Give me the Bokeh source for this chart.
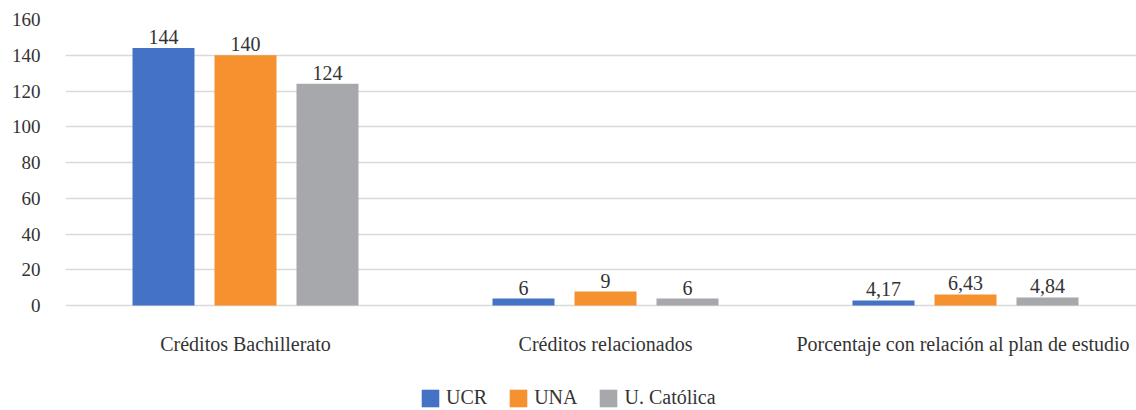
from bokeh.plotting import figure
from bokeh.models import ColumnDataSource, Range1d, FixedTicker, Legend, LegendItem
from bokeh.core.properties import value
from bokeh.embed import file_html
from bokeh.resources import INLINE

categories = ["Créditos Bachillerato", "Créditos relacionados",
              "Porcentaje con  relación al plan de estudio"]
series = ["UCR", "UNA", "U. Católica"]
colors = ["#4472C4", "#F5922F", "#A7A8AC"]
# bar heights as drawn in the reference
ucr_vals = [144, 3.9, 2.8]
una_vals = [140, 7.8, 6.2]
cat_vals = [124, 3.9, 4.5]
# data labels as printed in the reference
ucr_labels = ["144", "6", "4,17"]
una_labels = ["140", "9", "6,43"]
cat_labels = ["124", "6", "4,84"]
y_ticks = [0, 20, 40, 60, 80, 100, 120, 140, 160]

FONT = "serif"
TXT = "#333333"

# frame: top at 19px, value 0 at 305px, frame reaches the bottom edge (410px)
px_per_unit = 286 / 160
y_start = -(410 - 305) / px_per_unit

p = figure(width=1136, height=410, output_backend="svg", toolbar_location=None,
           x_range=Range1d(-0.5, -0.5 + 1071 / 360), y_range=Range1d(y_start, 160),
           min_border_left=65, min_border_right=0, min_border_top=19,
           min_border_bottom=0, frame_height=391, frame_width=1071)
p.outline_line_color = None
p.background_fill_color = "white"

bar_w = 62 / 360
off = 82 / 360
renderers = []
for i, (name, vals, labs, col) in enumerate(zip(series, [ucr_vals, una_vals, cat_vals],
                                                 [ucr_labels, una_labels, cat_labels], colors)):
    xs = [k + (i - 1) * off for k in range(len(categories))]
    src = ColumnDataSource(dict(x=xs, top=vals, lab=labs))
    r = p.vbar(x="x", top="top", width=bar_w, source=src, color=col, line_color=None)
    renderers.append(r)
    p.text(x="x", y="top", text="lab", source=src, text_align="center",
           text_baseline="bottom", y_offset=-4, text_font=value(FONT),
           text_font_size="20px", text_color=TXT)

# category labels under the zero line
cat_src = ColumnDataSource(dict(x=list(range(len(categories))), y=[0] * len(categories),
                                t=categories))
p.text(x="x", y="y", text="t", source=cat_src, text_align="center", text_baseline="middle",
       y_offset=38, text_font=value(FONT), text_font_size="20px", text_color=TXT)

p.xaxis.visible = False
p.xgrid.grid_line_color = None
p.ygrid.grid_line_color = "#D9D9D9"
p.ygrid.grid_line_width = 1.5
p.yaxis.ticker = FixedTicker(ticks=y_ticks)
ax = p.yaxis[0]
ax.axis_line_color = None
ax.major_tick_line_color = None
ax.minor_tick_line_color = None
ax.major_label_text_font = FONT
ax.major_label_text_color = TXT
ax.major_label_text_font_size = "19px"
ax.major_label_standoff = 19

legend = Legend(items=[LegendItem(label=s, renderers=[r]) for s, r in zip(series, renderers)],
                orientation="horizontal", location=(354, 1),
                glyph_width=22, glyph_height=22, label_standoff=5, spacing=20,
                padding=0, margin=0, border_line_color=None, background_fill_alpha=0,
                label_text_font=FONT, label_text_font_size="20px", label_text_color=TXT,
                label_height=22)
p.add_layout(legend, "center")

open("out.html", "w").write(file_html(p, INLINE))
